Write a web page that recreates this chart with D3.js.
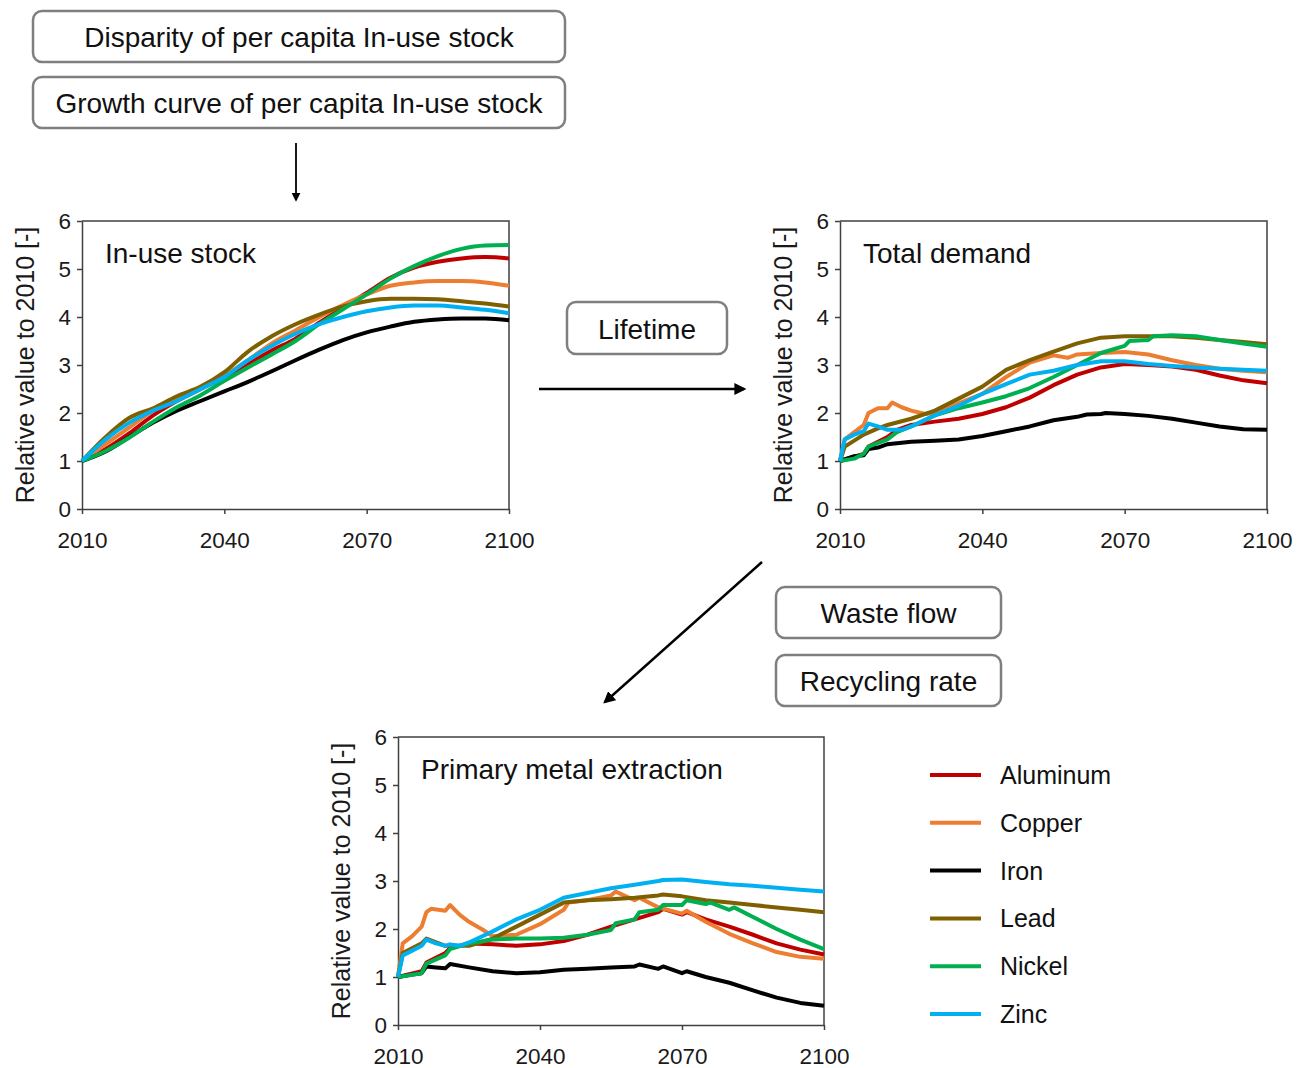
<!DOCTYPE html>
<html>
<head>
<meta charset="utf-8">
<script src="https://cdn.jsdelivr.net/npm/d3@7"></script>
<style>
  body { margin: 0; background: #fff; }
  svg { font-family: "Liberation Sans", Arial, sans-serif; }
  .axis path, .axis line { stroke: #404040; stroke-width: 1.5; }
  .axis text { fill: #1a1a1a; font-size: 22.5px; }
</style>
</head>
<body>
<div id="chart"></div>
<script>
// metals + colours (Excel palette)
const metals = ["Aluminum", "Copper", "Iron", "Lead", "Nickel", "Zinc"];
const colors = ["#C00000", "#ED7D31", "#000000", "#7F6000", "#00B050", "#00B0F0"];
const xTicks = [2010, 2040, 2070, 2100];
const yTicks = [0, 1, 2, 3, 4, 5, 6];

// In-use stock, [year, value relative to 2010]
const stockAluminum = [[2010,1],[2015,1.25],[2020,1.58],[2025,1.95],[2030,2.25],[2035,2.5],[2040,2.75],[2045,3.02],[2050,3.3],[2055,3.55],[2060,3.88],[2065,4.2],[2070,4.5],[2075,4.82],[2080,5.03],[2085,5.15],[2090,5.22],[2095,5.25],[2100,5.22]];
const stockCopper = [[2010,1],[2015,1.35],[2020,1.7],[2025,2.05],[2030,2.3],[2035,2.5],[2040,2.78],[2045,3.1],[2050,3.45],[2055,3.72],[2060,4.0],[2065,4.25],[2070,4.47],[2075,4.65],[2080,4.72],[2085,4.75],[2090,4.75],[2095,4.72],[2100,4.65]];
const stockIron = [[2010,1],[2015,1.2],[2020,1.5],[2025,1.8],[2030,2.05],[2035,2.25],[2040,2.45],[2045,2.65],[2050,2.87],[2055,3.1],[2060,3.32],[2065,3.52],[2070,3.68],[2075,3.8],[2080,3.9],[2085,3.95],[2090,3.97],[2095,3.97],[2100,3.93]];
const stockLead = [[2010,1],[2015,1.5],[2020,1.9],[2025,2.1],[2030,2.35],[2035,2.55],[2040,2.85],[2045,3.28],[2050,3.6],[2055,3.85],[2060,4.05],[2065,4.22],[2070,4.33],[2075,4.38],[2080,4.38],[2085,4.37],[2090,4.33],[2095,4.28],[2100,4.22]];
const stockNickel = [[2010,1],[2015,1.21],[2020,1.49],[2025,1.82],[2030,2.12],[2035,2.37],[2040,2.67],[2045,2.95],[2050,3.22],[2055,3.5],[2060,3.85],[2065,4.16],[2070,4.47],[2075,4.8],[2080,5.06],[2085,5.27],[2090,5.42],[2095,5.49],[2100,5.5]];
const stockZinc = [[2010,1],[2015,1.45],[2020,1.8],[2025,2.05],[2030,2.25],[2035,2.5],[2040,2.75],[2045,3.1],[2050,3.4],[2055,3.65],[2060,3.85],[2065,4.0],[2070,4.12],[2075,4.2],[2080,4.24],[2085,4.24],[2090,4.2],[2095,4.15],[2100,4.08]];

// Total demand
const demandAluminum = [[2010,1],[2015,1.15],[2016,1.3],[2020,1.5],[2022,1.65],[2025,1.75],[2030,1.82],[2035,1.88],[2040,1.98],[2045,2.12],[2050,2.32],[2055,2.58],[2060,2.8],[2065,2.95],[2070,3.02],[2075,3.0],[2080,2.97],[2085,2.9],[2090,2.78],[2095,2.68],[2100,2.62]];
const demandCopper = [[2010,1],[2011,1.45],[2013,1.6],[2015,1.75],[2016,2.0],[2018,2.1],[2020,2.1],[2021,2.22],[2023,2.12],[2025,2.05],[2028,1.98],[2030,2.0],[2035,2.2],[2040,2.4],[2045,2.75],[2050,3.05],[2055,3.2],[2058,3.15],[2060,3.22],[2065,3.25],[2070,3.27],[2075,3.22],[2080,3.1],[2085,3.0],[2090,2.92],[2095,2.88],[2100,2.85]];
const demandIron = [[2010,1],[2013,1.1],[2015,1.12],[2016,1.25],[2018,1.28],[2020,1.35],[2025,1.4],[2030,1.42],[2035,1.45],[2040,1.52],[2045,1.62],[2050,1.72],[2055,1.85],[2060,1.92],[2062,1.97],[2065,1.98],[2066,2.0],[2070,1.98],[2075,1.94],[2080,1.88],[2085,1.8],[2090,1.72],[2095,1.66],[2100,1.65]];
const demandLead = [[2010,1],[2011,1.3],[2015,1.55],[2018,1.68],[2020,1.75],[2025,1.88],[2030,2.05],[2035,2.3],[2040,2.55],[2045,2.9],[2050,3.1],[2055,3.28],[2060,3.45],[2065,3.57],[2070,3.6],[2075,3.6],[2080,3.6],[2085,3.57],[2090,3.52],[2095,3.48],[2100,3.43]];
const demandNickel = [[2010,1],[2013,1.05],[2015,1.15],[2016,1.3],[2020,1.45],[2022,1.6],[2025,1.72],[2030,1.95],[2035,2.1],[2040,2.22],[2045,2.35],[2050,2.52],[2055,2.75],[2060,3.0],[2065,3.25],[2070,3.4],[2071,3.5],[2075,3.52],[2076,3.6],[2080,3.62],[2085,3.6],[2090,3.52],[2095,3.45],[2100,3.38]];
const demandZinc = [[2010,1],[2011,1.45],[2013,1.55],[2015,1.62],[2016,1.78],[2018,1.72],[2020,1.65],[2023,1.65],[2025,1.72],[2030,1.95],[2035,2.15],[2040,2.4],[2045,2.6],[2050,2.8],[2055,2.88],[2060,3.0],[2065,3.08],[2070,3.08],[2075,3.02],[2080,2.98],[2085,2.95],[2090,2.92],[2095,2.9],[2100,2.88]];

// Primary metal extraction
const primaryAluminum = [[2010,1],[2015,1.12],[2016,1.3],[2020,1.5],[2021,1.6],[2025,1.7],[2030,1.68],[2035,1.65],[2040,1.68],[2045,1.75],[2050,1.88],[2055,2.05],[2060,2.2],[2065,2.35],[2066,2.42],[2070,2.3],[2071,2.35],[2075,2.2],[2080,2.05],[2085,1.88],[2090,1.7],[2095,1.57],[2100,1.47]];
const primaryCopper = [[2010,1],[2011,1.7],[2013,1.85],[2015,2.05],[2016,2.35],[2017,2.42],[2020,2.38],[2021,2.5],[2023,2.3],[2025,2.15],[2028,1.98],[2030,1.85],[2035,1.88],[2040,2.1],[2045,2.4],[2046,2.55],[2050,2.6],[2055,2.7],[2056,2.78],[2060,2.6],[2061,2.65],[2065,2.45],[2070,2.32],[2071,2.38],[2075,2.15],[2080,1.9],[2085,1.7],[2090,1.52],[2095,1.42],[2100,1.38]];
const primaryIron = [[2010,1],[2013,1.05],[2015,1.08],[2016,1.22],[2018,1.2],[2020,1.18],[2021,1.27],[2025,1.2],[2030,1.12],[2035,1.08],[2040,1.1],[2045,1.15],[2050,1.17],[2055,1.2],[2060,1.22],[2061,1.26],[2065,1.17],[2066,1.22],[2070,1.08],[2071,1.12],[2075,1.0],[2080,0.88],[2085,0.72],[2090,0.57],[2095,0.46],[2100,0.4]];
const primaryLead = [[2010,1],[2011,1.5],[2015,1.7],[2016,1.8],[2020,1.65],[2025,1.65],[2030,1.8],[2035,2.05],[2040,2.3],[2045,2.55],[2050,2.6],[2055,2.62],[2060,2.65],[2065,2.7],[2066,2.72],[2070,2.68],[2075,2.6],[2080,2.55],[2085,2.5],[2090,2.45],[2095,2.4],[2100,2.35]];
const primaryNickel = [[2010,1],[2015,1.08],[2016,1.28],[2020,1.45],[2021,1.58],[2025,1.7],[2030,1.78],[2035,1.8],[2040,1.8],[2045,1.82],[2050,1.88],[2055,1.98],[2056,2.12],[2060,2.2],[2061,2.35],[2065,2.4],[2066,2.5],[2070,2.5],[2071,2.6],[2075,2.52],[2076,2.55],[2080,2.4],[2081,2.45],[2085,2.25],[2090,2.0],[2095,1.78],[2100,1.58]];
const primaryZinc = [[2010,1],[2011,1.45],[2013,1.55],[2015,1.65],[2016,1.78],[2018,1.7],[2020,1.65],[2021,1.68],[2023,1.65],[2025,1.72],[2030,1.95],[2035,2.2],[2040,2.4],[2045,2.65],[2050,2.75],[2055,2.85],[2060,2.92],[2065,3.0],[2066,3.02],[2070,3.03],[2075,2.98],[2080,2.93],[2085,2.9],[2090,2.86],[2095,2.82],[2100,2.78]];

const W = 1303, H = 1068;

let svg = d3.select("#chart").append("svg")
	.attr("width", W)
	.attr("height", H);

let defs = svg.append("defs");
defs.append("marker")
	.attr("id", "arrow")
	.attr("viewBox", "0 0 10 10")
	.attr("refX", 8).attr("refY", 5)
	.attr("markerWidth", 5).attr("markerHeight", 5)
	.attr("orient", "auto")
	.append("path")
	.attr("d", "M0,0 L10,5 L0,10 z")
	.attr("fill", "#000");

// one panel: plot box at (left, top), size w x h
function makePanel(left, top, w, h, title, series, smooth) {
	let x = d3.scaleLinear().domain([2010, 2100]).range([0, w]);
	let y = d3.scaleLinear().domain([0, 6]).range([h, 0]);

	let g = svg.append("g").attr("transform", "translate(" + left + "," + top + ")");

	// frame (top + right)
	g.append("path")
		.attr("d", "M0,0 H" + w + " V" + h)
		.attr("fill", "none")
		.attr("stroke", "#404040")
		.attr("stroke-width", 1.5);

	g.append("g")
		.attr("class", "axis")
		.attr("transform", "translate(0," + h + ")")
		.call(d3.axisBottom(x).tickValues(xTicks).tickFormat(d3.format("d")).tickSize(5).tickSizeOuter(0).tickPadding(18));

	g.append("g")
		.attr("class", "axis")
		.call(d3.axisLeft(y).tickValues(yTicks).tickFormat(d3.format("d")).tickSize(5).tickSizeOuter(0).tickPadding(6));

	g.append("text")
		.attr("transform", "translate(-57," + (h / 2) + ") rotate(-90)")
		.attr("text-anchor", "middle")
		.attr("dominant-baseline", "central")
		.style("font-size", "25px")
		.attr("fill", "#1a1a1a")
		.text("Relative value to 2010 [-]");

	g.append("text")
		.attr("x", 23).attr("y", 42)
		.style("font-size", "28px")
		.attr("fill", "#111")
		.text(title);

	let line = d3.line()
		.x(d => x(d[0]))
		.y(d => y(d[1]))
		.curve(smooth ? d3.curveMonotoneX : d3.curveLinear);

	series.forEach((s, i) => {
		g.append("path")
			.datum(s)
			.attr("fill", "none")
			.attr("stroke", colors[i])
			.attr("stroke-width", 4)
			.attr("stroke-linejoin", "round")
			.attr("d", line);
	});
}

makePanel(82, 221, 427, 288, "In-use stock",
	[stockAluminum, stockCopper, stockIron, stockLead, stockNickel, stockZinc], true);
makePanel(840, 221, 427, 288, "Total demand",
	[demandAluminum, demandCopper, demandIron, demandLead, demandNickel, demandZinc], false);
makePanel(398, 737, 426, 288, "Primary metal extraction",
	[primaryAluminum, primaryCopper, primaryIron, primaryLead, primaryNickel, primaryZinc], false);

// boxes with labels
function box(x0, y0, w, h, label) {
	svg.append("rect")
		.attr("x", x0).attr("y", y0)
		.attr("width", w).attr("height", h)
		.attr("rx", 9)
		.attr("fill", "#fff")
		.attr("stroke", "#7f7f7f")
		.attr("stroke-width", 2.5);
	svg.append("text")
		.attr("x", x0 + w / 2).attr("y", y0 + h / 2 + 1)
		.attr("text-anchor", "middle")
		.attr("dominant-baseline", "central")
		.style("font-size", "28px")
		.attr("fill", "#111")
		.text(label);
}
box(33, 11, 532, 51, "Disparity of per capita In-use stock");
box(33, 77, 532, 51, "Growth curve of per capita In-use stock");
box(567, 302, 160, 52, "Lifetime");
box(776, 587, 225, 51, "Waste flow");
box(776, 655, 225, 51, "Recycling rate");

// arrows
function arrow(x1, y1, x2, y2, sw) {
	svg.append("line")
		.attr("x1", x1).attr("y1", y1)
		.attr("x2", x2).attr("y2", y2)
		.attr("stroke", "#000")
		.attr("stroke-width", sw)
		.attr("marker-end", "url(#arrow)");
}
arrow(296, 143, 296, 200, 1.8);
arrow(539, 389, 744, 389, 2.4);
arrow(762, 562, 605, 702, 2.4);

// legend
let legend = svg.append("g").attr("transform", "translate(930,775)");
metals.forEach((m, i) => {
	let row = legend.append("g").attr("transform", "translate(0," + (i * 47.8) + ")");
	row.append("line")
		.attr("x1", 0).attr("x2", 51)
		.attr("stroke", colors[i])
		.attr("stroke-width", 4);
	row.append("text")
		.attr("x", 70).attr("y", 0)
		.attr("dominant-baseline", "central")
		.style("font-size", "25px")
		.attr("fill", "#111")
		.text(m);
});
</script>
</body>
</html>
